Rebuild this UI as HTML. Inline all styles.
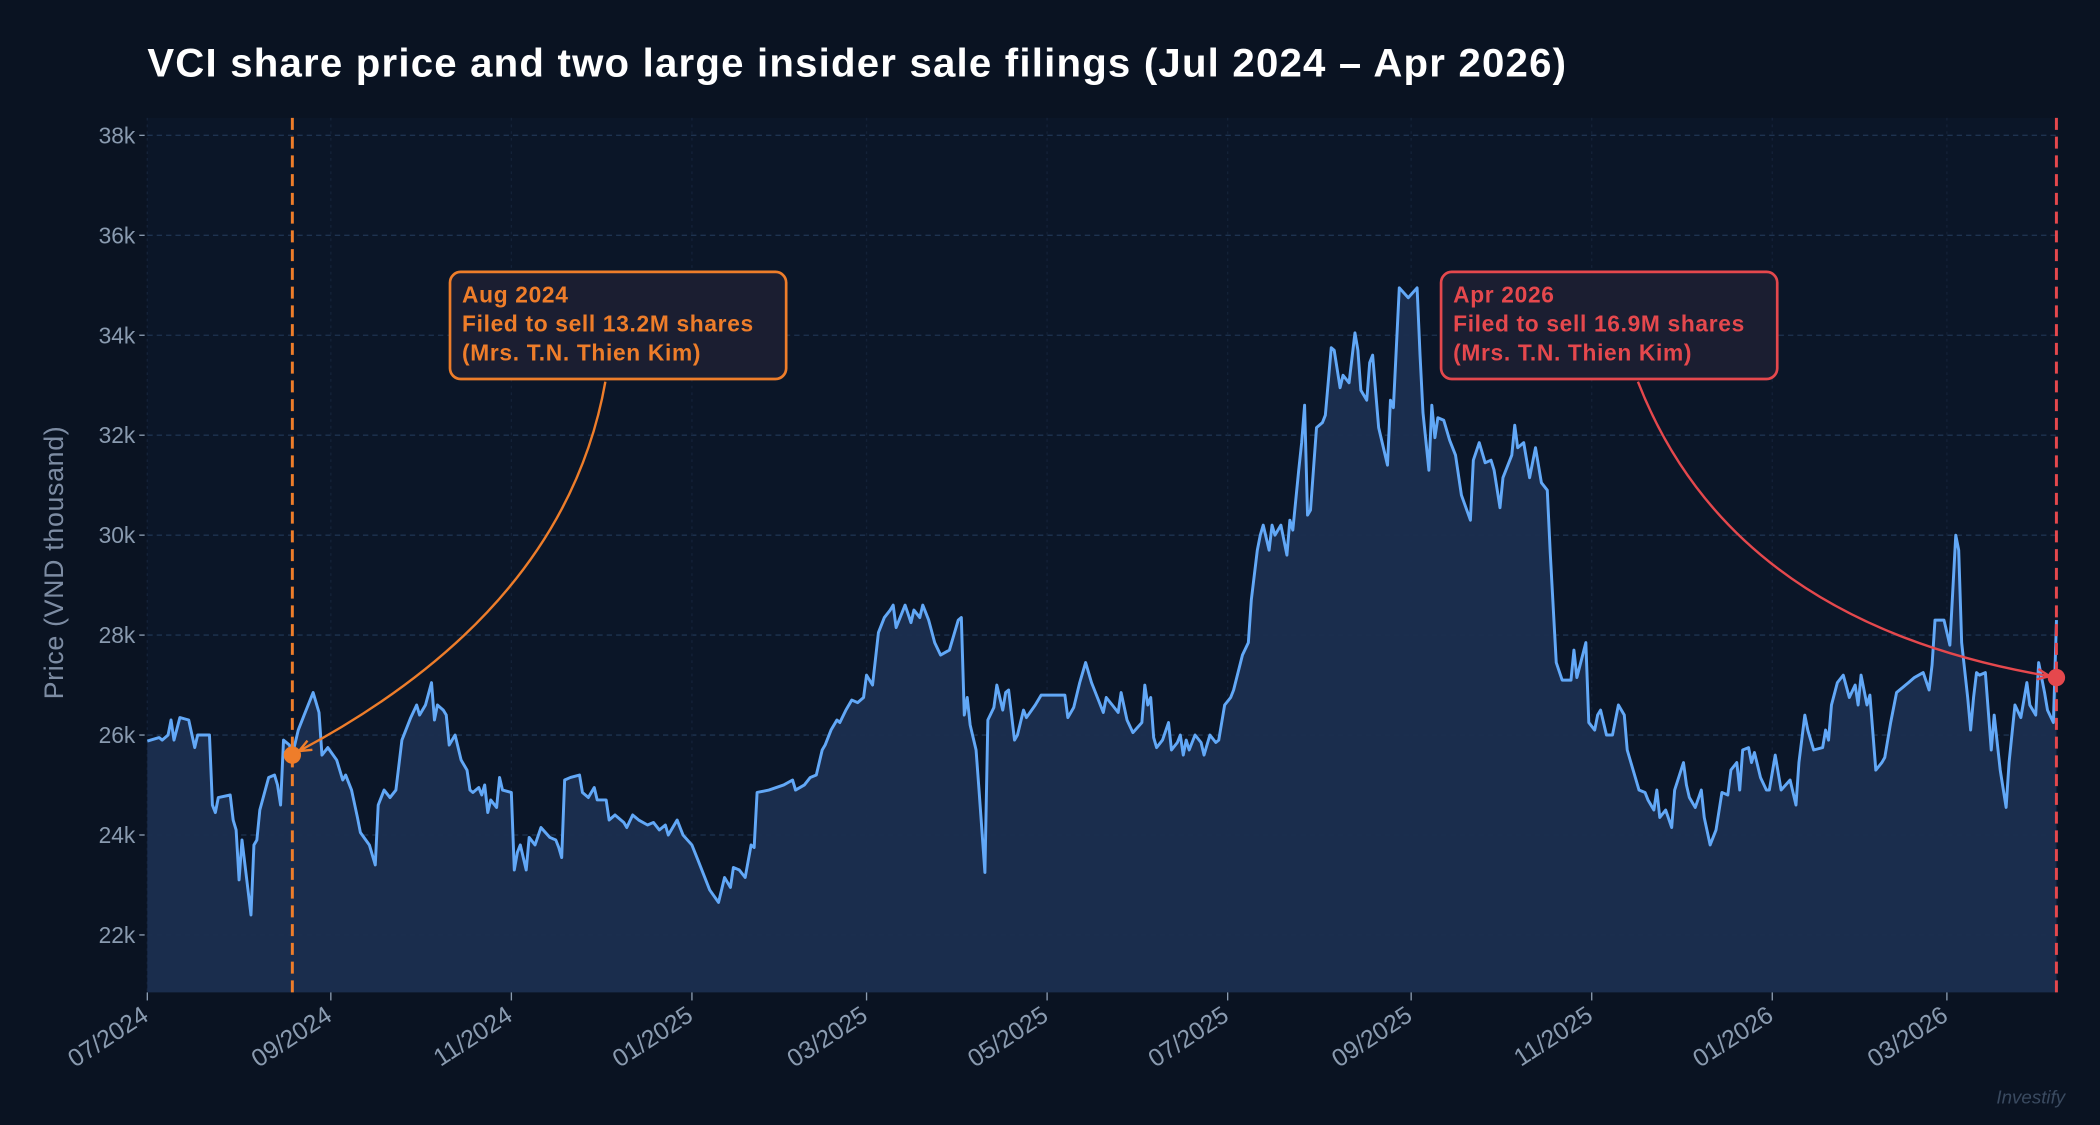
<!DOCTYPE html>
<html><head><meta charset="utf-8"><style>
html,body{margin:0;padding:0;background:#0a1322;}
svg{display:block;}
</style></head><body>
<svg width="2100" height="1125" viewBox="0 0 1568 840" xmlns="http://www.w3.org/2000/svg" font-family="'Liberation Sans', sans-serif">
<rect x="0" y="0" width="1568" height="840" fill="#0a1322"/>
<rect x="110" y="88" width="1427" height="653" fill="#0b1628"/>
<text x="110" y="57" fill="#ffffff" font-size="30" font-weight="bold" letter-spacing="0.9">VCI share price and two large insider sale filings (Jul 2024 – Apr 2026)</text>
<g id="grid"></g>
<path id="area" fill="#1b2e4f" opacity="0.95"/>
<path id="line" fill="none" stroke="#62a8f7" stroke-width="2.2" stroke-linejoin="round"/>
<g id="axes"></g>
<g id="events"></g>
<text transform="translate(47,420) rotate(-90)" text-anchor="middle" fill="#7d8ca3" font-size="20" letter-spacing="0.5">Price (VND thousand)</text>
<text x="1542" y="824" text-anchor="end" fill="#3a4a60" font-size="14" font-style="italic">Investify</text>
</svg>
<script>
const days = [0,4,5,7,8,9,11,14,16,17,21,22,23,24,28,29,30,31,32,35,36,37,38,41,43,44,45,46,48,49,51,53,56,58,59,61,64,66,67,69,71,72,75,77,78,80,82,84,86,87,89,91,92,94,96,97,98,100,101,102,104,106,108,109,110,112,113,114,115,116,118,119,120,123,124,125,126,128,129,131,133,136,138,139,140,141,143,146,147,149,151,152,155,156,158,161,162,164,166,169,171,173,175,176,179,181,184,186,188,190,193,195,197,198,200,202,204,205,206,210,215,218,219,222,224,226,228,229,231,233,234,236,238,240,242,243,245,247,249,251,252,253,256,258,259,261,262,264,266,268,271,272,274,275,276,277,278,280,281,283,284,286,287,289,290,291,293,294,296,297,300,302,308,310,311,313,315,317,319,321,323,324,326,328,329,331,333,336,337,338,339,340,341,343,345,346,348,349,350,351,352,354,356,357,359,361,362,364,366,367,370,372,373,375,376,377,379,380,381,383,385,386,387,389,390,391,392,393,395,397,398,400,401,403,404,406,408,409,410,412,413,414,416,419,420,421,423,426,429,430,431,433,434,435,436,438,440,442,444,447,448,450,452,454,455,457,458,461,462,463,465,467,469,471,473,474,476,478,481,482,483,486,487,489,490,491,493,495,497,499,500,502,504,506,507,509,510,511,513,515,516,519,520,521,523,525,526,528,530,532,534,535,537,538,539,541,542,543,545,547,548,550,552,555,557,558,560,561,563,566,567,568,569,571,573,575,577,578,579,581,582,584,586,587,589,591,593,595,597,600,602,603,604,607,609,611,612,613,615,616,617,618,619,621,623,624,626,628,629,631,633,635,636,638,639,641,642,644,645];
const prices = [25.88,25.95,25.9,26.0,26.3,25.9,26.35,26.3,25.75,26.0,26.0,24.6,24.45,24.75,24.8,24.3,24.1,23.1,23.9,22.4,23.8,23.9,24.5,25.15,25.2,25.0,24.6,25.9,25.8,25.6,26.1,26.4,26.85,26.45,25.6,25.75,25.5,25.1,25.2,24.9,24.35,24.05,23.8,23.4,24.6,24.9,24.75,24.9,25.9,26.05,26.35,26.6,26.4,26.6,27.05,26.3,26.6,26.5,26.4,25.8,26.0,25.5,25.3,24.9,24.85,24.95,24.8,25.0,24.45,24.7,24.55,25.15,24.9,24.85,23.3,23.65,23.8,23.3,23.95,23.8,24.15,23.95,23.9,23.75,23.55,25.1,25.15,25.2,24.85,24.75,24.95,24.7,24.7,24.3,24.4,24.25,24.15,24.4,24.3,24.2,24.25,24.1,24.2,24.0,24.3,24.0,23.8,23.5,23.2,22.9,22.65,23.15,22.95,23.35,23.3,23.15,23.8,23.75,24.85,24.9,25.0,25.1,24.9,25.0,25.15,25.2,25.7,25.8,26.1,26.3,26.25,26.5,26.7,26.65,26.75,27.2,27.0,28.05,28.35,28.5,28.6,28.15,28.6,28.25,28.5,28.35,28.6,28.3,27.85,27.6,27.7,27.9,28.3,28.35,26.4,26.75,26.2,25.7,24.9,23.25,26.3,26.55,27.0,26.5,26.85,26.9,25.9,26.0,26.5,26.35,26.6,26.8,26.8,26.8,26.35,26.55,27.05,27.45,27.05,26.75,26.45,26.75,26.6,26.45,26.85,26.3,26.05,26.25,27.0,26.6,26.75,25.95,25.75,25.9,26.25,25.7,25.85,26.0,25.6,25.9,25.7,26.0,25.85,25.6,26.0,25.85,25.9,26.6,26.75,26.9,27.6,27.85,28.7,29.7,30.0,30.2,29.7,30.2,30.0,30.2,29.6,30.3,30.1,31.3,31.85,32.6,30.4,30.5,32.15,32.25,32.4,33.75,33.7,32.95,33.2,33.05,34.05,33.7,32.9,32.7,33.45,33.6,32.15,31.4,32.7,32.55,34.95,34.75,34.95,33.6,32.45,31.3,32.6,31.95,32.35,32.3,31.9,31.6,30.8,30.3,31.5,31.85,31.45,31.5,31.3,30.55,31.15,31.6,32.2,31.75,31.85,31.15,31.75,31.05,30.9,29.65,27.45,27.1,27.1,27.7,27.15,27.85,26.25,26.1,26.4,26.5,26.0,26.0,26.6,26.4,25.7,25.3,24.9,24.85,24.7,24.5,24.9,24.35,24.5,24.15,24.9,25.45,25.0,24.75,24.55,24.9,24.35,23.8,24.1,24.85,24.8,25.3,25.45,24.9,25.7,25.75,25.45,25.65,25.15,24.9,24.9,25.6,24.9,25.1,24.6,25.45,26.4,26.1,25.7,25.75,26.1,25.9,26.6,27.05,27.2,26.75,27.0,26.6,27.2,26.6,26.8,25.3,25.45,25.55,26.25,26.85,26.95,27.05,27.15,27.25,26.9,27.4,28.3,28.3,27.8,30.0,29.7,27.85,26.75,26.1,26.75,27.25,27.2,27.25,25.7,26.4,25.3,24.55,25.45,26.6,26.35,27.05,26.6,26.4,27.45,26.85,26.5,26.25,28.3];
const yTicks = [22,24,26,28,30,32,34,36,38];
const yTickLabels = ['22k','24k','26k','28k','30k','32k','34k','36k','38k'];
const xTickLabels = ['07/2024','09/2024','11/2024','01/2025','03/2025','05/2025','07/2025','09/2025','11/2025','01/2026','03/2026'];
const eventDays = [49,645];
const eventPrices = [25.6,27.15];
const eventTitles = ['Aug 2024','Apr 2026'];
const eventLines = ['Filed to sell 13.2M shares','Filed to sell 16.9M shares'];
const eventPersons = ['(Mrs. T.N. Thien Kim)','(Mrs. T.N. Thien Kim)'];

const NS='http://www.w3.org/2000/svg';
const X0=110,X1=1537,Y0=741,Y1=88,DMAX=645.7,VMIN=20.85,VMAX=38.35;
function xs(d){return X0+(d/DMAX)*(X1-X0);}
function ys(v){return Y0-(v-VMIN)/(VMAX-VMIN)*(Y0-Y1);}
function mk(tag,attrs,parent){const e=document.createElementNS(NS,tag);for(const k in attrs)e.setAttribute(k,attrs[k]);parent.appendChild(e);return e;}
function monthDay(lbl){const [m,y]=lbl.split('/').map(Number);return Math.round((Date.UTC(y,m-1,1)-Date.UTC(2024,6,1))/86400000);}

const grid=document.getElementById('grid'),axes=document.getElementById('axes'),ev=document.getElementById('events');
yTicks.forEach((v,i)=>{
  const g=mk('line',{x1:X0,x2:X1,y1:ys(v),y2:ys(v),stroke:'#1e3350','stroke-width':1,'stroke-dasharray':'4 3'},grid);
  
  
  const t=mk('line',{x1:X0-6,x2:X0-2,y1:ys(v),y2:ys(v),stroke:'#8a9bb0','stroke-width':1},axes);
  
  
  const l=mk('text',{x:X0-9,y:ys(v)+6,'text-anchor':'end',fill:'#8a9bb0','font-size':17},axes);
  
  
  l.textContent=yTickLabels[i];
});
xTickLabels.forEach(lbl=>{
  const x=xs(monthDay(lbl));
  const g=mk('line',{x1:x,x2:x,y1:Y1,y2:Y0,stroke:'#142238','stroke-width':1,'stroke-dasharray':'2 3'},grid);
  
  
  const t=mk('line',{x1:x,x2:x,y1:Y0,y2:Y0+6,stroke:'#8a9bb0','stroke-width':1},axes);
  
  
  const l=mk('text',{transform:`translate(${x+2},${Y0+20}) rotate(-33)`,'text-anchor':'end',fill:'#8a9bb0','font-size':18.5},axes);
  
  
  l.textContent=lbl;
});
let d='';
days.forEach((dd,i)=>{d+=(i?'L':'M')+xs(dd).toFixed(1)+','+ys(prices[i]).toFixed(1);});
document.getElementById('line').setAttribute('d',d);
document.getElementById('area').setAttribute('d',d+`L${xs(days[days.length-1]).toFixed(1)},${Y0}L${xs(days[0])},${Y0}Z`);

const colors=['#ee7d2a','#e5484d'];
const boxX=[336,1076];
eventDays.forEach((dd,i)=>{
  const x=xs(dd),y=ys(eventPrices[i]),c=colors[i];
  const vl=mk('line',{x1:x,x2:x,y1:Y1,y2:Y0,stroke:c,'stroke-width':2.2,'stroke-dasharray':'9 5'},ev);
  
  
  const bx=boxX[i],by=203,bw=251,bh=80;
  const sx=bx+(i?147:116),sy=by+bh+2;
  const ex=x+(i?-5:5),ey=y-(i?1:3);
  const cx=i?sx+70:sx-30,cy=i?ey-40:sy+170;
  const ar=mk('path',{d:`M${sx},${sy} Q${cx},${cy} ${ex},${ey}`,fill:'none',stroke:c,'stroke-width':1.8},ev);
  
  
  const ang=Math.atan2(ey-cy,ex-cx),h=10;
  const hp=mk('path',{d:`M${ex},${ey} L${ex-h*Math.cos(ang-0.4)},${ey-h*Math.sin(ang-0.4)} M${ex},${ey} L${ex-h*Math.cos(ang+0.4)},${ey-h*Math.sin(ang+0.4)}`,fill:'none',stroke:c,'stroke-width':1.8},ev);
  
  
  const dot=mk('circle',{cx:x,cy:y,r:6.5,fill:c},ev);
  
  
  const box=mk('rect',{x:bx,y:by,width:bw,height:bh,rx:8,fill:'#1b1e31',stroke:c,'stroke-width':2},ev);
  
  
  [eventTitles[i],eventLines[i],eventPersons[i]].forEach((s,k)=>{
    const t=mk('text',{x:bx+9,y:by+23+k*21.5,fill:c,'font-size':17,'font-weight':'bold','letter-spacing':0.5},ev);
    
    
    t.textContent=s;
  });
});
</script>
</body></html>
